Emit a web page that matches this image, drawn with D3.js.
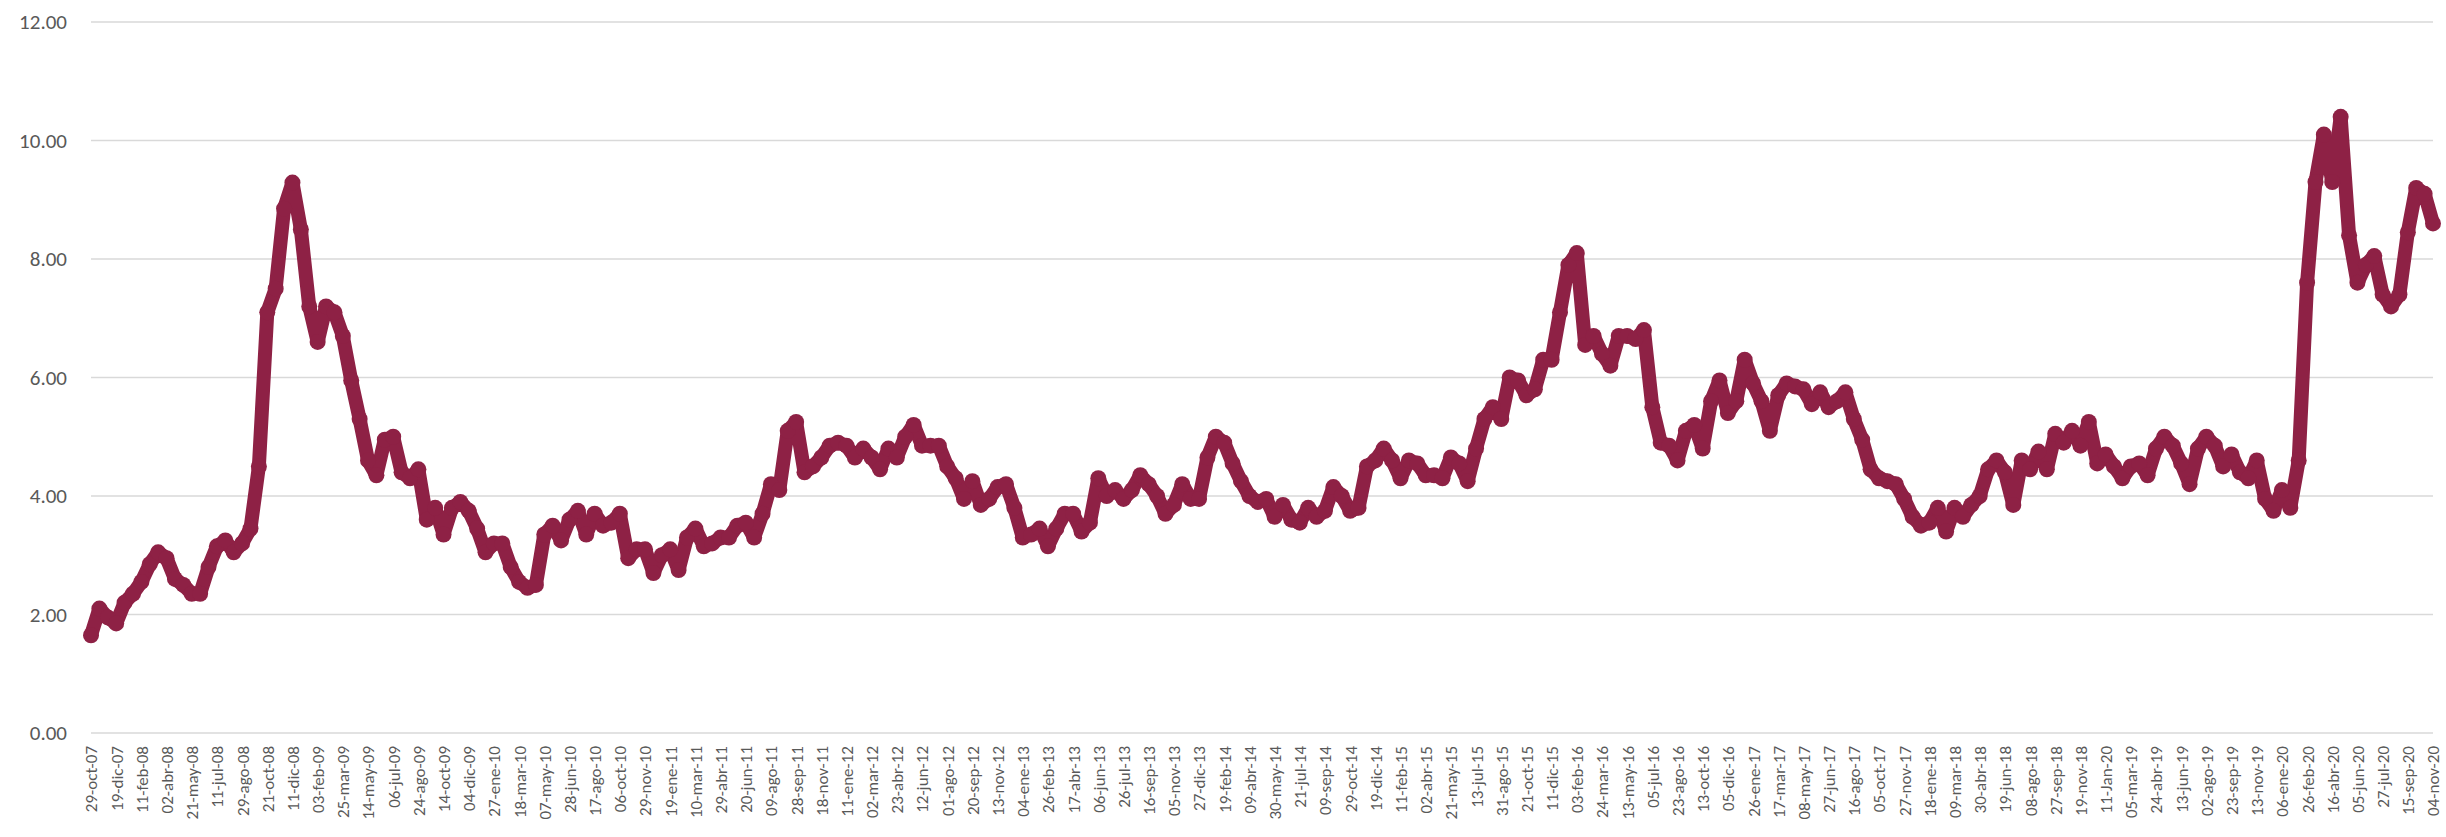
<!DOCTYPE html>
<html>
<head>
<meta charset="utf-8">
<script src="https://cdn.jsdelivr.net/npm/d3@7"></script>
<style>
  html, body { margin: 0; padding: 0; background: #ffffff; }
  svg { display: block; }
  text { font-family: Carlito, Calibri, Lato, "Open Sans", sans-serif; fill: #595959; }
</style>
</head>
<body>
<svg id="chart" width="2446" height="837"></svg>
<script>
// Category labels (every STEP-th sample carries a label)
const labels = [
  "29-oct-07","19-dic-07","11-feb-08","02-abr-08","21-may-08","11-jul-08","29-ago-08","21-oct-08",
  "11-dic-08","03-feb-09","25-mar-09","14-may-09","06-jul-09","24-ago-09","14-oct-09","04-dic-09",
  "27-ene-10","18-mar-10","07-may-10","28-jun-10","17-ago-10","06-oct-10","29-nov-10","19-ene-11",
  "10-mar-11","29-abr-11","20-jun-11","09-ago-11","28-sep-11","18-nov-11","11-ene-12","02-mar-12",
  "23-abr-12","12-jun-12","01-ago-12","20-sep-12","13-nov-12","04-ene-13","26-feb-13","17-abr-13",
  "06-jun-13","26-jul-13","16-sep-13","05-nov-13","27-dic-13","19-feb-14","09-abr-14","30-may-14",
  "21-jul-14","09-sep-14","29-oct-14","19-dic-14","11-feb-15","02-abr-15","21-may-15","13-jul-15",
  "31-ago-15","21-oct-15","11-dic-15","03-feb-16","24-mar-16","13-may-16","05-jul-16","23-ago-16",
  "13-oct-16","05-dic-16","26-ene-17","17-mar-17","08-may-17","27-jun-17","16-ago-17","05-oct-17",
  "27-nov-17","18-ene-18","09-mar-18","30-abr-18","19-jun-18","08-ago-18","27-sep-18","19-nov-18",
  "11-Jan-20","05-mar-19","24-abr-19","13-jun-19","02-ago-19","23-sep-19","13-nov-19","06-ene-20",
  "26-feb-20","16-abr-20","05-jun-20","27-jul-20","15-sep-20","04-nov-20"
];

// Value axis ticks
const yTicks = [0, 2, 4, 6, 8, 10, 12];

// Samples per label interval
const STEP = 3;

// Series values (STEP samples per label interval)
const values = [
  1.65, 2.1, 1.95,   1.85, 2.2, 2.35,   2.55, 2.85, 3.05,   2.95, 2.6, 2.5,
  2.35, 2.35, 2.8,   3.15, 3.25, 3.05,  3.2, 3.45, 4.5,     7.1, 7.5, 8.85,
  9.29, 8.5, 7.2,    6.6, 7.2, 7.1,     6.7, 5.95, 5.3,     4.6, 4.35, 4.95,
  5.0, 4.4, 4.3,     4.45, 3.6, 3.8,    3.35, 3.8, 3.9,     3.75, 3.45, 3.05,
  3.2, 3.2, 2.8,     2.55, 2.45, 2.5,   3.35, 3.5, 3.25,    3.6, 3.75, 3.35,
  3.7, 3.5, 3.55,    3.7, 2.95, 3.1,    3.1, 2.7, 3.0,      3.1, 2.75, 3.3,
  3.45, 3.15, 3.2,   3.3, 3.3, 3.5,     3.55, 3.3, 3.7,     4.2, 4.1, 5.1,
  5.25, 4.4, 4.5,    4.65, 4.85, 4.9,   4.85, 4.65, 4.8,    4.65, 4.45, 4.8,
  4.65, 5.0, 5.2,    4.85, 4.85, 4.85,  4.5, 4.3, 3.95,     4.25, 3.85, 3.95,
  4.15, 4.2, 3.8,    3.3, 3.35, 3.45,   3.15, 3.45, 3.7,    3.7, 3.4, 3.55,
  4.3, 4.0, 4.1,     3.95, 4.1, 4.35,   4.2, 4.0, 3.7,      3.85, 4.2, 3.95,
  3.95, 4.65, 5.0,   4.9, 4.55, 4.25,   4.0, 3.9, 3.95,     3.65, 3.85, 3.6,
  3.55, 3.8, 3.65,   3.75, 4.15, 4.0,   3.75, 3.8, 4.5,     4.6, 4.8, 4.6,
  4.3, 4.6, 4.55,    4.35, 4.35, 4.3,   4.65, 4.55, 4.25,   4.8, 5.3, 5.5,
  5.3, 6.0, 5.95,    5.7, 5.8, 6.3,     6.3, 7.1, 7.9,      8.1, 6.55, 6.7,
  6.4, 6.2, 6.7,     6.7, 6.65, 6.8,    5.5, 4.9, 4.85,     4.6, 5.1, 5.2,
  4.8, 5.6, 5.95,    5.4, 5.6, 6.3,     5.9, 5.6, 5.1,      5.7, 5.9, 5.85,
  5.8, 5.55, 5.75,   5.5, 5.6, 5.75,    5.3, 4.95, 4.45,    4.3, 4.25, 4.2,
  3.95, 3.65, 3.5,   3.55, 3.8, 3.4,    3.8, 3.65, 3.85,    4.0, 4.45, 4.6,
  4.4, 3.85, 4.6,    4.45, 4.75, 4.45,  5.05, 4.9, 5.1,     4.85, 5.25, 4.55,
  4.7, 4.5, 4.3,     4.5, 4.55, 4.35,   4.8, 5.0, 4.85,     4.55, 4.2, 4.8,
  5.0, 4.85, 4.5,    4.7, 4.4, 4.3,     4.6, 3.95, 3.75,    4.1, 3.8, 4.6,
  7.6, 9.3, 10.1,    9.3, 10.4, 8.4,    7.6, 7.9, 8.05,     7.4, 7.2, 7.4,
  8.45, 9.2, 9.1,
  8.6
];

const plot = { left: 91, right: 2433, top: 22, bottom: 733 };
const color = "#8E2145";
const fontStack = "Carlito, Calibri, Lato, 'Open Sans', sans-serif";

const svg = d3.select("#chart");

const x = d3.scaleLinear().domain([0, labels.length - 1]).range([plot.left, plot.right]);
const y = d3.scaleLinear().domain([0, 12]).range([plot.bottom, plot.top]);

// gridlines
svg.append("g")
  .selectAll("line")
  .data(yTicks)
  .join("line")
  .attr("x1", plot.left)
  .attr("x2", plot.right)
  .attr("y1", d => y(d))
  .attr("y2", d => y(d))
  .attr("stroke", "#d9d9d9")
  .attr("stroke-width", 1.5);

// y axis labels
const yAxis = d3.axisLeft(y).tickValues(yTicks).tickFormat(d3.format(".2f")).tickSize(0).tickPadding(0);
const gy = svg.append("g").attr("transform", "translate(67,0)").call(yAxis);
gy.select(".domain").remove();
gy.selectAll("text")
  .attr("font-size", 21)
  .attr("fill", "#595959")
  .style("font-family", fontStack);

// x axis labels (rotated)
const xAxis = d3.axisBottom(x).tickValues(d3.range(labels.length)).tickFormat(i => labels[i]).tickSize(0).tickPadding(0);
const gx = svg.append("g").attr("transform", `translate(0,${plot.bottom})`).call(xAxis);
gx.select(".domain").remove();
gx.selectAll("text")
  .attr("font-size", 17)
  .attr("fill", "#595959")
  .style("font-family", fontStack)
  .attr("text-anchor", "end")
  .attr("transform", "translate(0,13) rotate(-90)")
  .attr("x", 0)
  .attr("y", 0)
  .attr("dy", "0.35em");

// series
const pts = values.map((v, i) => ({ i: i / STEP, v }));
const line = d3.line().x(d => x(d.i)).y(d => y(d.v));

svg.append("path")
  .datum(pts)
  .attr("fill", "none")
  .attr("stroke", color)
  .attr("stroke-width", 14)
  .attr("stroke-linejoin", "round")
  .attr("stroke-linecap", "round")
  .attr("d", line);

svg.append("g")
  .selectAll("circle")
  .data(pts)
  .join("circle")
  .attr("cx", d => x(d.i))
  .attr("cy", d => y(d.v))
  .attr("r", 8)
  .attr("fill", color);
</script>
</body>
</html>
